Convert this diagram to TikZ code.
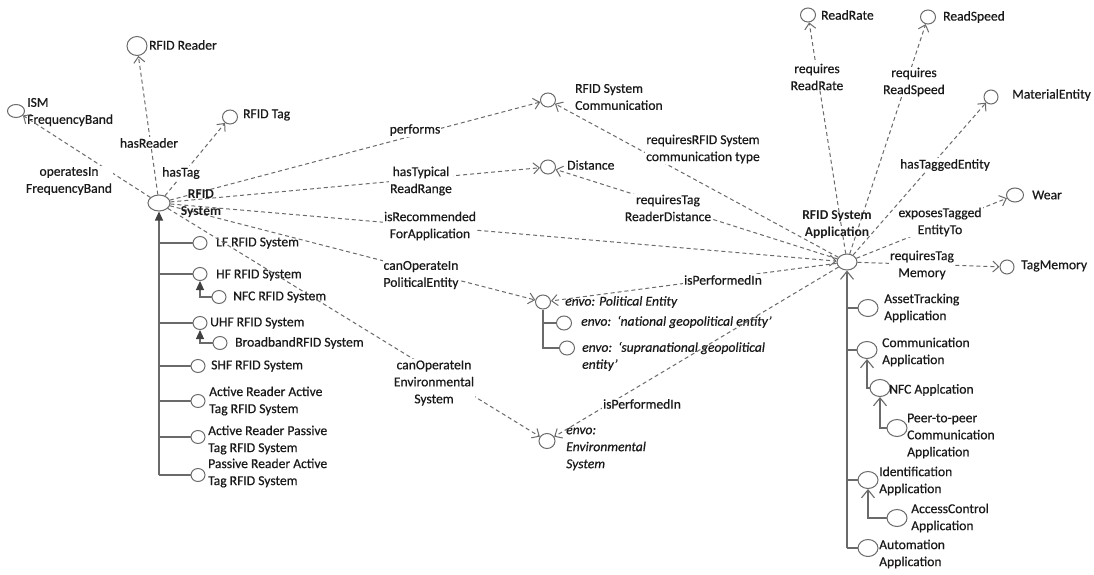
\documentclass[tikz,border=0pt]{standalone}
\usepackage{fontspec}
\setmainfont{Carlito}[UprightFeatures={FakeBold=0.5},ItalicFeatures={FakeBold=0.5}]
\usetikzlibrary{arrows.meta,shapes.geometric}

\definecolor{linegray}{HTML}{6A6A6A}
\definecolor{inkc}{HTML}{1A1A1A}
\newcommand\dgfont{\fontsize{13.6pt}{17pt}\selectfont}

\begin{document}
\begin{tikzpicture}[x=1pt,y=-1pt,
  font=\dgfont,
  cls/.style={ellipse,draw=linegray,line width=1pt,fill=white,inner sep=0pt,
              minimum width=15pt,minimum height=14pt},
  sub/.style={cls,minimum width=14pt,minimum height=13pt},
  rsub/.style={cls,minimum width=20pt,minimum height=17pt},
  txt/.style={text=inkc,anchor=west,align=left,inner sep=0pt},
  btxt/.style={text=inkc,align=center,inner sep=0pt,font=\dgfont\bfseries},
  itxt/.style={txt,font=\dgfont\itshape},
  prop/.style={text=inkc,align=center,fill=white,inner sep=1pt},
  rel/.style={draw=linegray,line width=1pt,dash pattern=on 4pt off 3pt,
              -{Straight Barb[length=6pt,width=11pt]}},
  isa/.style={draw=linegray,line width=1.1pt,
              -{Triangle[length=9pt,width=8pt,color=black!75]}},
  isaopen/.style={draw=linegray,line width=1.1pt,
              -{Straight Barb[length=8pt,width=13pt]}},
  tree/.style={draw=linegray,line width=1.1pt},
]
\fill[white] (0,0) rectangle (1094,575);
\useasboundingbox (0,0) rectangle (1094,575);

% ---------- RFID System and its neighbours ----------
\node[cls,minimum width=20pt,minimum height=19pt] (reader) at (137,46) {};
\node[txt] (t-reader) at (149,45) {RFID Reader};
\node[cls,minimum width=17pt,minimum height=13pt] (ism) at (16,111) {};
\node[txt] (t-ism) at (27,112) {ISM\\FrequencyBand};
\node[cls] (tag) at (230,117) {};
\node[txt] (t-tag) at (243,115) {RFID Tag};
\node[cls,minimum width=22pt,minimum height=16pt] (sys) at (159,203) {};

% subclasses of RFID System
\node[sub] (lf)   at (200,243) {};
\node[sub] (hf)   at (200,274) {};
\node[sub] (nfc)  at (219,297) {};
\node[sub] (uhf)  at (200,323) {};
\node[sub] (bb)   at (220,343) {};
\node[sub] (shf)  at (198,366) {};
\node[sub] (arat) at (198,401) {};
\node[sub] (arpt) at (198,437) {};
\node[sub] (prat) at (198,475) {};
\node[txt] (t-lf)   at (216,243) {LF RFID System};
\node[txt] (t-hf)   at (216,275) {HF RFID System};
\node[txt] (t-nfc)  at (233,297) {NFC RFID System};
\node[txt] (t-uhf)  at (210,323) {UHF RFID System};
\node[txt] (t-bb)   at (235,343) {BroadbandRFID System};
\node[txt] (t-shf)  at (211,366) {SHF RFID System};
\node[txt] (t-arat) at (209,401) {Active Reader Active\\Tag RFID System};
\node[txt] (t-arpt) at (208,440) {Active Reader Passive\\Tag RFID System};
\node[txt] (t-prat) at (208,473) {Passive Reader Active\\Tag RFID System};

% ---------- middle classes ----------
\node[cls] (comm) at (548,100) {};
\node[txt] (t-comm) at (575,97) {RFID System\\Communication};
\node[cls] (dist) at (548,167) {};
\node[txt] (t-dist) at (567,165) {Distance};
\node[cls] (pol) at (543,302) {};
\node[itxt] (t-pol) at (565,302) {envo: Political Entity};
\node[cls] (nat) at (564,323) {};
\node[itxt] (t-nat) at (581,322) {envo:\ \ ‘national geopolitical entity’};
\node[cls] (supra) at (567,348) {};
\node[itxt] (t-supra) at (582,356.5) {envo:\ \ ‘supranational geopolitical\\entity’};
\node[cls,minimum width=16pt,minimum height=15pt] (env) at (547,441) {};
\node[itxt] (t-env) at (566,449) {envo:\\Environmental\\System};

% ---------- RFID System Application and its neighbours ----------
\node[cls,minimum width=20pt,minimum height=16pt] (app) at (847,262) {};
\node[cls] (rrate) at (808,15) {};
\node[txt] (t-rrate) at (821,15) {ReadRate};
\node[cls] (rspeed) at (928,17) {};
\node[txt] (t-rspeed) at (943,17) {ReadSpeed};
\node[cls,minimum width=14pt] (mat) at (991,97) {};
\node[txt] (t-mat) at (1012,95) {MaterialEntity};
\node[cls,minimum width=17pt] (wear) at (1015,195) {};
\node[txt] (t-wear) at (1032,195) {Wear};
\node[cls,minimum width=14pt] (tmem) at (1007,267) {};
\node[txt] (t-tmem) at (1021,266) {TagMemory};

% subclasses of RFID System Application
\node[rsub] (asset)  at (868,308) {};
\node[rsub] (capp)   at (867,350) {};
\node[rsub] (nfcapp) at (880,388) {};
\node[rsub] (p2p)    at (897,428) {};
\node[rsub] (ident)  at (868,480) {};
\node[rsub] (acc)    at (897,518) {};
\node[rsub] (autom)  at (868,548) {};
\node[txt] (t-asset)  at (884,308) {AssetTracking\\Application};
\node[txt] (t-capp)   at (882,352) {Communication\\Application};
\node[txt] (t-nfcapp) at (889,390) {NFC Applcation};
\node[txt] (t-p2p)    at (907,436) {Peer-to-peer\\Communication\\Application};
\node[txt] (t-ident)  at (879,481) {Identification\\Application};
\node[txt] (t-acc)    at (911,518) {AccessControl\\Application};
\node[txt] (t-autom)  at (879,554) {Automation\\Application};

% ---------- class hierarchy ----------
\coordinate (lt) at (159,475);
\draw[isa] (lt) -- (sys);
\foreach \c in {lf,hf,uhf,shf,arat,arpt,prat}
  \draw[tree] (lt |- \c) -- (\c);
\draw[isa] (nfc) -| (hf);
\draw[isa] (bb) -| (uhf);

\draw[tree] (pol) |- (nat);
\draw[tree] (pol) |- (supra);

\coordinate (rt) at (847,548);
\draw[isaopen] (rt) -- (app);
\foreach \c in {asset,capp,ident,autom}
  \draw[tree] (rt |- \c) -- (\c);
\draw[isaopen] (nfcapp) -| (capp);
\draw[isaopen] (p2p) -| (nfcapp);
\draw[isaopen] (acc) -| (ident);

% ---------- object properties ----------
\foreach \t in {reader,ism,tag,comm,dist,app,pol,env}
  \draw[rel] (sys) -- (\t);
\foreach \t in {comm,dist,pol,env,rrate,rspeed,mat,wear,tmem}
  \draw[rel] (app) -- (\t);

\node[prop] (p-reader) at (149,143) {hasReader};
\node[prop] (p-ism)    at (69,181) {operatesIn\\FrequencyBand};
\node[prop] (p-tag)    at (181,173) {hasTag};
\node[prop] (p-perf)   at (415,130) {performs};
\node[prop] (p-range)  at (421,181) {hasTypical\\ReadRange};
\node[prop] (p-recom)  at (430,226) {isRecommended\\ForApplication};
\node[prop] (p-polop)  at (421,275) {canOperateIn\\PoliticalEntity};
\node[prop] (p-envop)  at (434,383) {canOperateIn\\Environmental\\System};
\node[prop] (p-rcomm)  at (703,149) {requiresRFID System\\communication type};
\node[prop] (p-rdist)  at (668,208) {requiresTag\\ReaderDistance};
\node[prop] (p-perfp)  at (723,280) {isPerformedIn};
\node[prop] (p-perfe)  at (642,404) {isPerformedIn};
\node[prop] (p-rrate)  at (817,77) {requires\\ReadRate};
\node[prop] (p-rspeed) at (914,82) {requires\\ReadSpeed};
\node[prop] (p-mat)    at (945,165) {hasTaggedEntity};
\node[prop] (p-wear)   at (940,222) {exposesTagged\\EntityTo};
\node[prop] (p-tmem)   at (922,265) {requiresTag\\Memory};

% bold class names drawn over the connectors
\node[btxt] (t-sys) at (201,204) {RFID\\System};
\node[btxt] (t-app) at (837,225) {RFID System\\Application};
\end{tikzpicture}
\end{document}
